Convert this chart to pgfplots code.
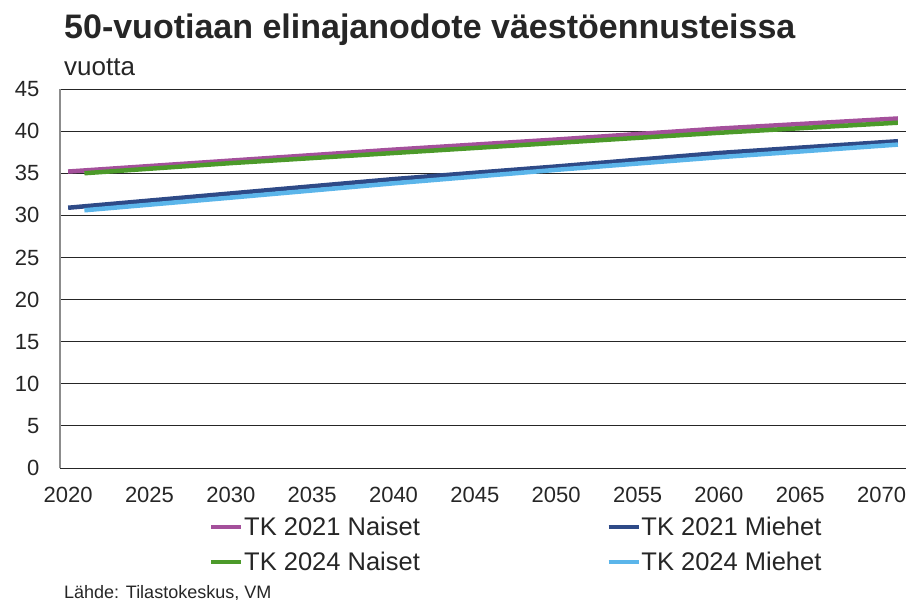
\documentclass[border=0pt]{standalone}
\usepackage{pgfplots}
\pgfplotsset{compat=1.18}
\usepackage{fontspec}
\setmainfont{Liberation Sans}
\definecolor{cPink}{HTML}{A4509B}
\definecolor{cGreen}{HTML}{4C9A2A}
\definecolor{cDark}{HTML}{2E4A87}
\definecolor{cLight}{HTML}{5BB5EA}
\begin{document}
\begin{tikzpicture}[x=1pt,y=1pt]
\useasboundingbox (-60,-132) rectangle (846,468);
\begin{axis}[
  at={(0,0)}, anchor=origin,
  width=846pt, height=379pt, scale only axis,
  xmin=2019.5, xmax=2071.5,
  ymin=0, ymax=45,
  xtick={2020,2025,...,2070},
  ytick={0,5,...,45},
  x tick label style={/pgf/number format/1000 sep={}},
  /pgf/number format/assume math mode=true,
  tick label style={font=\fontsize{22}{26}\selectfont, text=black!85},
  xticklabel style={yshift=-16pt},
  yticklabel style={xshift=-17pt},
  major tick length=0pt,
  ymajorgrids,
  grid style={black!85, line width=0.9pt},
  axis x line*=bottom, axis y line*=left,
  x axis line style={black!85, line width=1pt, -},
  y axis line style={black!45, line width=1.2pt, -},
  clip=false,
  legend columns=2,
  legend cell align=left,
  legend style={draw=none, fill=none, at={(149pt,-47pt)}, anchor=north west,
    font=\fontsize{25.5}{30}\selectfont, text=black!85, inner sep=0pt,
    nodes={inner xsep=0.5pt, inner ysep=2pt},
    /tikz/every even column/.append style={column sep=186pt},
    row sep=11pt},
  legend image code/.code={\draw[#1, line width=4.5pt] (0,0) -- (30pt,0);},
]
\addplot[cPink, line width=4.5pt] coordinates {(2020,35.2) (2030,36.5) (2040,37.8) (2050,39.0) (2060,40.3) (2071,41.5)};
\addlegendentry{TK 2021 Naiset}
\addplot[cDark, line width=4.5pt] coordinates {(2020,30.9) (2030,32.6) (2040,34.3) (2050,35.8) (2060,37.4) (2071,38.8)};
\addlegendentry{TK 2021 Miehet}
\addplot[cGreen, line width=4.5pt] coordinates {(2021,35.0) (2030,36.2) (2040,37.4) (2050,38.6) (2060,39.8) (2071,41.0)};
\addlegendentry{TK 2024 Naiset}
\addplot[cLight, line width=4.5pt] coordinates {(2021,30.6) (2030,32.1) (2040,33.8) (2050,35.4) (2060,36.9) (2071,38.4)};
\addlegendentry{TK 2024 Miehet}
\end{axis}
\node[anchor=base west, inner sep=0pt, text=black!85, font=\fontsize{34}{40}\selectfont\bfseries] at (4,429) {50-vuotiaan elinajanodote väestöennusteissa};
\node[anchor=base west, inner sep=0pt, text=black!85, font=\fontsize{26}{30}\selectfont] at (4,392) {vuotta};
\node[anchor=base west, inner sep=0pt, text=black!85, font=\fontsize{18}{21}\selectfont] at (4,-130) {Lähde: Tilastokeskus, VM};
\end{tikzpicture}
\end{document}
